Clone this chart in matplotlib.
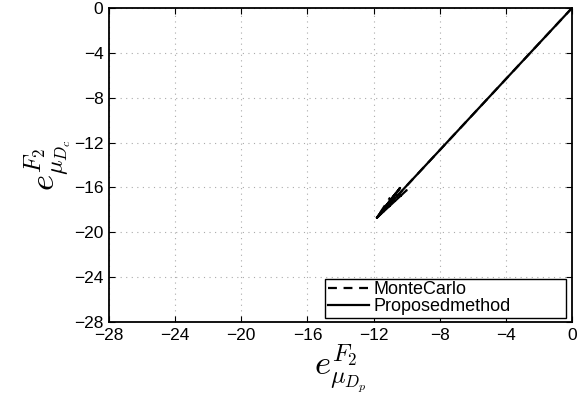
import matplotlib
matplotlib.use("Agg")
import matplotlib.pyplot as plt

plt.rcParams['font.family'] = ['Liberation Sans', 'DejaVu Sans']
plt.rcParams['mathtext.fontset'] = 'cm'

# data
mc_x = [0, -11.8, -10.0, -11.8, -11.0]
mc_y = [0, -18.7, -16.25, -18.7, -16.9]
pm_x = [0, -11.8, -10.4, -11.8, -10.7]
pm_y = [0, -18.7, -16.05, -18.7, -16.6]
ticks = [-28, -24, -20, -16, -12, -8, -4, 0]

fig = plt.figure(figsize=(5.79, 4.08), dpi=100)
ax = fig.add_axes([109/579, 1 - 322/408, 463/579, 314/408])

ax.plot(mc_x, mc_y, color='k', ls=(0, (4, 3)), lw=1.6, label='MonteCarlo')
ax.plot(pm_x, pm_y, 'k-', lw=1.6, label='Proposedmethod')

ax.set_xlim(-28, 0)
ax.set_ylim(-28, 0)
ax.set_xticks(ticks)
ax.set_yticks(ticks)
ax.set_xticklabels([str(t).replace('-', '\u2212') for t in ticks])
ax.set_yticklabels([str(t).replace('-', '\u2212') for t in ticks])
ax.tick_params(direction='in', labelsize=12.5, length=4, width=0.8,
               top=True, right=True, pad=4)
ax.grid(True, linestyle=(0, (1, 4)), color='#aaaaaa', lw=0.8)
for s in ax.spines.values():
    s.set_linewidth(1.3)

ax.set_xlabel(r'$e^{F_2}_{\mu_{D_p}}$', fontsize=25, labelpad=0)
ax.set_ylabel(r'$e^{F_2}_{\mu_{D_c}}$', fontsize=25, labelpad=0)

leg = ax.legend(loc='lower left', bbox_to_anchor=(0.467, 0.013, 0.52, 0.12),
                mode='expand', fontsize=13, handlelength=2.3,
                handletextpad=0.2, borderpad=0.15, labelspacing=0.0,
                fancybox=False, framealpha=1, borderaxespad=0)
leg.get_frame().set_edgecolor('black')
leg.get_frame().set_linewidth(1.0)

fig.savefig('out.png', dpi=100)
